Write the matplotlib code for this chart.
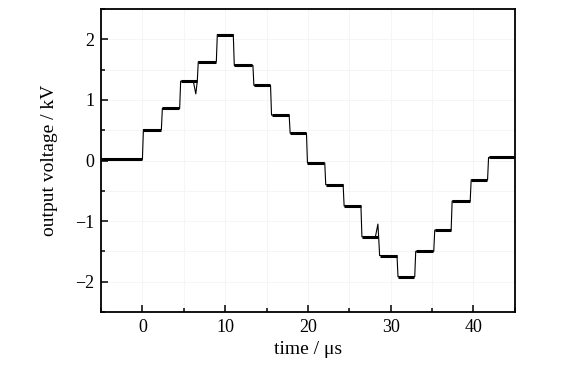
import matplotlib.pyplot as plt
from matplotlib.ticker import MultipleLocator

plt.rcParams['font.family'] = ['Liberation Serif', 'DejaVu Serif']

# step edges (us) and plateau levels (kV)
step_times = [-5.0, 0.0, 2.29, 4.5, 6.63, 8.93, 10.98, 13.35, 15.48, 17.73, 19.82,
              22.03, 24.25, 26.4, 28.54, 30.76, 32.9, 35.2, 37.3, 39.6, 41.7]
step_levels = [0.02, 0.51, 0.86, 1.31, 1.63, 2.08, 1.57, 1.24, 0.75, 0.45, -0.04,
               -0.40, -0.75, -1.26, -1.57, -1.92, -1.50, -1.15, -0.67, -0.32, 0.05]
t_end = 45.0

# a couple of visible glitches just before an edge: (time, value)
glitches = [(6.45, 1.10), (28.45, -1.05)]

rise = 0.12

# build the trace path
tx, vy = [], []
edges = step_times[1:] + [t_end]
for i, lvl in enumerate(step_levels):
    start = step_times[i] if i == 0 else step_times[i] + rise
    tx += [start, edges[i]]
    vy += [lvl, lvl]
for gt, gv in glitches:
    idx = next(k for k in range(len(tx) - 1) if tx[k] <= gt <= tx[k + 1] and vy[k] == vy[k + 1])
    tx[idx + 1:idx + 1] = [gt - 0.3, gt]
    vy[idx + 1:idx + 1] = [vy[idx], gv]

fig = plt.figure(figsize=(5.74, 3.79), dpi=100)
ax = fig.add_axes([0.176, 0.177, 0.721, 0.799])

ax.plot(tx, vy, color='black', lw=0.8)
# plateaus look thick because of noise
for i, lvl in enumerate(step_levels):
    ax.hlines(lvl, step_times[i] + (0 if i == 0 else rise), edges[i] - 0.05,
              color='black', lw=2.2)

ax.set_xlim(-5, 45)
ax.set_ylim(-2.5, 2.5)
ax.xaxis.set_major_locator(MultipleLocator(10))
ax.xaxis.set_minor_locator(MultipleLocator(5))
ax.yaxis.set_major_locator(MultipleLocator(1))
ax.yaxis.set_minor_locator(MultipleLocator(0.5))
ax.tick_params(which='both', direction='in', labelsize=13, top=False, right=False)
ax.tick_params(which='major', length=5, width=1.1, pad=5)
ax.tick_params(which='minor', length=3, width=1.1)
ax.grid(True, which='both', color='#f4f4f4', lw=0.6)
ax.set_axisbelow(True)
for s in ax.spines.values():
    s.set_linewidth(1.3)

ax.set_xlabel('time / μs', fontsize=14, labelpad=4)
ax.set_ylabel('output voltage / kV', fontsize=14, labelpad=12)

fig.savefig('out.png', dpi=100)
